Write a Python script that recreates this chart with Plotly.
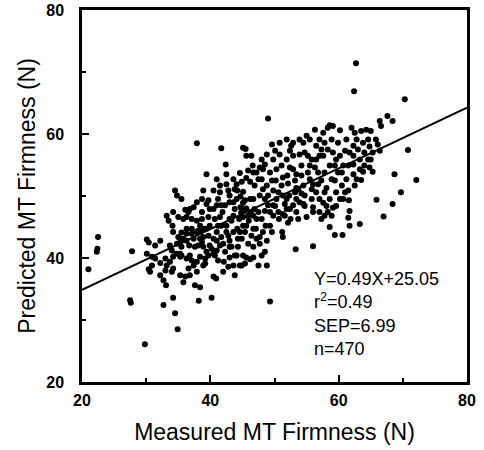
import plotly.graph_objects as go

# Estimated (measured, predicted) pairs, grouped by region
outliers = [(62.7,71.4),(62.4,66.9),(70.3,65.6),(49.0,62.5),(37.9,58.5),(21.0,38.2),(22.5,43.4),(22.4,41.5),
            (22.3,41.0),(27.8,41.1),(27.5,33.2),(27.6,32.8),(29.8,26.1),(32.7,32.4),(34.2,33.6),(34.5,31.1),
            (34.9,28.5),(38.2,33.1),(40.2,33.6),(49.3,33.0),(53.3,41.4),(56.0,41.9),(72.1,52.6),(70.8,57.4),
            (68.7,53.5),(68.4,48.7),(69.7,50.6),(67.0,46.7),(63.3,45.5),(59.4,43.7),(60.6,43.7),(65.9,49.4),
            (65.3,53.9),(68.4,62.1),(67.6,62.9),(66.4,62.1),(58.6,61.4),(60.2,60.6)]

band_30_35 = [(30.1,43.0),(30.4,42.5),(30.1,40.7),(30.4,38.2),(30.6,37.8),(30.9,40.2),(31.4,39.9),(32.2,39.2),
              (32.7,36.4),(33.0,39.9),(33.0,38.0),(33.2,38.8),(33.5,46.0),(33.2,46.8),(33.7,42.0),(34.0,41.2),
              (34.0,37.8),(34.2,38.3),(34.1,45.2),(34.2,44.2),(34.5,50.9),(34.8,50.1),(31.4,42.0),(32.2,42.8),
              (30.9,38.8),(32.2,37.2),(33.1,35.6),(34.2,47.4),(34.8,42.3),(34.7,40.7),(34.2,40.2),(33.7,39.4)]

band_35_40 = [(35.0,43.4),(35.3,42.3),(35.5,49.5),(35.5,44.1),(35.3,40.7),(35.3,40.2),(35.5,41.8),(35.8,46.3),
              (36.1,47.8),(36.3,44.7),(36.3,42.8),(36.6,47.4),(36.8,47.9),(37.1,46.3),(37.1,44.7),(36.7,42.0),
              (36.8,40.4),(37.1,39.6),(37.4,38.8),(36.1,37.0),(36.8,37.2),(37.6,35.6),(38.4,35.3),(37.9,37.8),
              (37.9,39.4),(37.6,41.8),(38.1,42.0),(37.4,43.1),(37.9,44.2),(38.1,44.4),(38.4,45.2),(38.7,46.3),
              (38.9,44.7),(38.4,43.1),(38.9,43.4),(39.2,39.9),(39.2,39.1),(39.4,41.0),(38.9,41.8),(39.4,53.5),
              (39.4,48.7),(39.7,49.3),(39.9,47.9),(39.7,46.6),(37.1,43.9),(36.3,43.9),(35.8,43.1),(35.3,43.1),
              (35.5,40.4),(36.3,39.9),(38.4,40.2),(38.9,38.8),(39.7,40.4),(35.3,37.2),(35.8,36.1),(36.6,38.3),
              (35.0,46.6),(36.3,46.6),(37.4,48.2),(37.9,49.0),(38.7,49.5),(38.9,50.9),(38.7,47.4),(37.9,46.0),
              (38.4,44.2),(39.9,42.0),(39.9,45.2),(39.4,44.7),(39.7,43.6),(38.7,42.6)]

band_40_45 = [(40.2,41.5),(40.5,40.7),(40.7,40.4),(40.5,37.0),(40.9,36.7),(41.0,42.8),(41.0,44.2),(41.2,45.2),
              (41.2,49.5),(41.5,50.6),(41.5,51.7),(41.7,57.7),(41.7,48.5),(41.9,47.4),(42.0,42.3),(42.1,39.4),
              (42.4,55.1),(42.5,53.5),(42.5,51.9),(42.8,50.9),(43.0,49.0),(43.0,46.3),(42.8,43.6),(43.0,42.8),
              (43.3,41.8),(43.6,38.8),(43.8,37.2),(44.1,40.4),(43.6,46.8),(43.8,47.9),(44.1,49.5),(43.8,51.1),
              (44.1,51.9),(43.6,52.7),(44.3,43.1),(44.2,44.7),(44.5,46.3),(44.6,38.8),(44.7,49.9),(44.8,47.3),
              (44.3,41.8),(43.8,40.4),(43.0,40.1),(42.5,44.2),(41.7,43.4),(41.5,42.0),(42.3,48.5),(41.5,46.6),
              (40.7,46.3),(40.5,47.9),(40.5,43.1),(41.2,39.6),(42.0,37.8),(42.8,38.6),(44.9,38.8),(44.6,53.7),
              (40.5,50.9),(41.0,52.7),(41.0,41.2),(42.3,41.0),(43.0,41.8),(43.6,44.2),(44.9,43.1),(44.6,44.2),
              (42.5,45.2),(43.3,46.0),(41.7,45.2),(41.0,48.5),(43.0,50.1),(43.6,49.0),(44.7,48.2),(44.2,50.9)]

band_45_50 = [(44.9,52.3),(45.1,50.7),(45.1,57.8),(45.5,57.6),(45.6,56.5),(45.4,49.3),(45.6,48.0),(45.9,46.8),
              (45.6,45.2),(45.4,44.2),(45.9,42.3),(45.1,40.4),(45.6,40.1),(46.2,39.8),(46.4,56.5),(46.6,54.9),
              (46.7,53.8),(46.9,51.7),(46.7,49.5),(46.9,47.9),(47.2,46.3),(47.1,44.7),(47.5,38.8),(47.7,42.3),
              (48.0,55.9),(48.2,54.3),(48.0,52.7),(48.2,51.1),(48.5,49.5),(48.5,47.6),(48.6,45.2),(48.8,42.8),
              (48.8,38.8),(49.6,58.3),(49.3,53.8),(49.6,52.5),(49.8,50.9),(50.1,48.4),(49.8,46.8),(50.3,54.3),
              (45.1,48.9),(46.2,49.5),(46.3,47.4),(46.0,46.0),(45.1,46.6),(46.7,44.7),(45.4,39.1),(46.7,40.1),
              (48.0,40.4),(48.5,41.0),(47.7,43.4),(48.2,44.2),(47.2,43.1),(47.2,53.8),(47.5,52.7),(47.7,50.1),
              (48.8,51.7),(49.0,50.1),(49.0,48.5),(49.3,47.4),(45.6,52.9),(46.2,52.3),(45.9,54.1),(48.8,56.7),
              (48.5,55.1),(47.7,54.6),(49.8,55.9),(45.1,45.2),(46.4,43.6),(46.7,41.8),(45.4,47.9),(46.7,46.8),
              (47.5,47.4),(48.0,46.3),(49.3,45.2),(49.6,44.2),(49.8,48.5)]

band_50_55 = [(50.8,58.6),(50.8,56.7),(51.1,54.9),(51.3,53.0),(51.1,51.7),(51.3,50.1),(51.6,48.7),(51.3,47.1),
              (51.2,44.2),(51.3,43.4),(51.9,55.9),(52.1,52.0),(52.3,50.1),(52.4,47.9),(52.5,46.3),(52.6,58.1),
              (52.9,56.5),(52.9,54.3),(53.2,52.5),(53.2,50.6),(53.4,49.5),(53.4,47.4),(53.7,46.3),(53.9,59.1),
              (53.9,56.7),(54.2,54.9),(54.2,53.3),(54.5,51.7),(54.7,50.1),(54.7,48.4),(50.3,49.5),(50.6,47.4),
              (50.7,46.3),(50.2,52.5),(50.6,50.6),(51.9,49.5),(51.9,47.9),(52.0,53.3),(52.4,54.6),(53.4,53.5),
              (53.7,51.1),(54.2,50.4),(54.5,48.7),(52.9,48.5),(53.9,49.0),(51.6,46.8),(52.1,45.7),(53.4,51.3),
              (50.1,57.3),(52.4,57.3),(51.9,59.1),(52.9,58.6),(54.5,58.6),(54.7,57.0)]

band_55_60 = [(55.0,59.7),(55.2,56.5),(55.5,54.9),(55.5,52.7),(55.8,51.1),(55.8,49.5),(56.0,48.2),(56.0,47.4),
              (56.3,60.7),(56.5,58.1),(56.5,55.9),(56.8,53.8),(56.8,51.9),(57.0,49.5),(57.0,47.4),(57.3,57.5),
              (57.6,56.5),(57.8,53.8),(57.8,50.6),(58.1,48.4),(58.3,47.4),(58.3,61.0),(58.6,45.0),(58.9,59.1),
              (58.9,52.7),(58.9,46.8),(59.1,61.3),(59.1,57.0),(59.4,54.9),(59.4,52.5),(59.6,50.6),(59.6,48.4),
              (59.9,58.6),(55.0,46.6),(55.2,53.8),(56.0,51.9),(56.3,54.6),(56.5,50.6),(57.3,52.5),(57.6,48.9),
              (55.5,59.1),(55.8,55.9),(57.0,56.5),(57.0,59.1),(57.8,58.6),(57.6,60.2),(58.3,57.5),(58.6,54.9),
              (59.6,55.9),(59.9,53.8),(58.6,49.5),(58.1,51.3),(57.8,46.8),(57.3,46.3),(59.1,48.1)]

band_60_67 = [(60.2,56.5),(60.5,53.8),(60.5,51.7),(60.7,49.5),(61.0,57.3),(61.2,59.1),(61.2,52.7),(61.5,54.9),
              (61.5,50.9),(61.6,49.3),(61.7,47.6),(61.5,46.5),(61.7,45.2),(62.0,61.0),(62.3,58.1),(62.3,56.5),
              (62.3,53.5),(62.5,60.2),(62.8,59.1),(63.0,57.5),(63.3,55.9),(63.3,54.3),(63.5,60.5),(63.8,58.6),
              (64.0,57.0),(64.0,54.9),(64.3,60.7),(64.6,59.1),(64.8,58.0),(65.0,60.5),(65.3,57.0),(65.8,59.1),
              (66.1,58.3),(66.4,57.3),(66.6,61.3),(60.7,54.9),(61.7,57.0),(62.3,55.1),(62.8,52.7),(62.5,51.7),
              (61.0,50.6),(60.2,49.5),(63.5,52.6),(63.8,53.9),(64.6,55.9),(64.8,54.6),(65.0,55.9)]

groups = [outliers, band_30_35, band_35_40, band_40_45, band_45_50, band_50_55, band_55_60, band_60_67]
measured = [p[0] for g in groups for p in g]
predicted = [p[1] for g in groups for p in g]

slope, intercept = 0.49, 25.05
x_range = [20, 80]
major_ticks = [20, 40, 60, 80]
minor_ticks = [30, 50, 70]
stats_lines = ["Y=0.49X+25.05", "r<sup>2</sup>=0.49", "SEP=6.99", "n=470"]

fig = go.Figure()
fig.add_trace(go.Scatter(x=measured, y=predicted, mode="markers",
                         marker=dict(color="black", size=6), showlegend=False))
fig.add_trace(go.Scatter(x=x_range, y=[slope * v + intercept for v in x_range], mode="lines",
                         line=dict(color="black", width=2), showlegend=False))

font_family = "Liberation Sans, Arial, sans-serif"
axis_common = dict(range=[20, 80], tickvals=major_ticks, ticks="inside", ticklen=7, tickwidth=1.5,
                   tickcolor="black", showline=True, linewidth=2.5, linecolor="black", mirror=True,
                   showgrid=False, zeroline=False, automargin=False,
                   tickfont=dict(family=font_family, size=16, color="black", weight="bold"),
                   minor=dict(tickvals=minor_ticks, ticks="inside", ticklen=4, tickcolor="black", showgrid=False))

fig.update_xaxes(**axis_common, ticklabelstandoff=2, ticklabeloverflow="allow",
                 title=dict(text="Measured MT Firmness (N)", font=dict(family=font_family, size=23, color="black"),
                            standoff=16))
fig.update_yaxes(**axis_common, ticklabelstandoff=12, ticklabeloverflow="allow",
                 title=dict(text="Predicted MT Firmness (N)", font=dict(family=font_family, size=23, color="black"),
                            standoff=5))

fig.add_annotation(text="<br>".join(stats_lines), xref="paper", yref="paper", x=0.597, y=0.31,
                   xanchor="left", yanchor="top", align="left", showarrow=False,
                   font=dict(family=font_family, size=18, color="black"))

fig.update_layout(template="none", width=484, height=450, margin=dict(l=82, r=17, t=10, b=68),
                  plot_bgcolor="white", paper_bgcolor="white", hovermode=False)

# remove the page's default body margin so the figure fills the window exactly
fig.write_html("out.html", config={"displayModeBar": False},
               post_script="document.body.style.margin='0';document.body.style.overflow='hidden';")
